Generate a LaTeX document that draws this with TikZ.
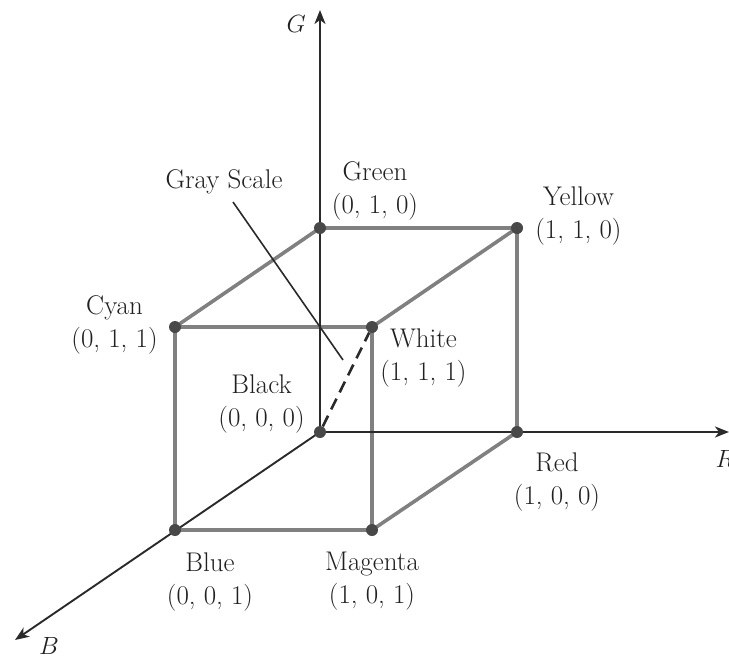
\documentclass[tikz,border=0pt]{standalone}
\usepackage{xcolor}
\usepackage{tikz}
\usetikzlibrary{arrows.meta,positioning,backgrounds}
\definecolor{EdgeGray}{HTML}{808080}
\definecolor{AxisDark}{HTML}{2A2A2A}
\definecolor{DotDark}{HTML}{484848}
\definecolor{TextDark}{HTML}{202020}
\tikzset{
  % Corner dot
  VX/.style={circle,fill=DotDark,inner sep=0pt,minimum size=12pt},
  % Corner label (name + triple)
  LB/.style={align=center,inner sep=0pt,text=TextDark,
             font=\fontsize{27}{33}\selectfont},
  % Axis / single labels
  AXL/.style={inner sep=0pt,text=TextDark,font=\fontsize{27}{33}\selectfont},
  % Lines
  eg/.style={draw=EdgeGray,line width=3.6pt},
  ax/.style={draw=AxisDark,line width=1.9pt,-{Stealth[length=14pt,width=11pt,inset=4pt]}},
  ds/.style={draw=AxisDark,line width=2.6pt,dash pattern=on 12pt off 7pt},
  ld/.style={draw=AxisDark,line width=1.6pt}
}
\begin{document}
\begin{tikzpicture}[x=1pt,y=-1pt]
  \useasboundingbox (0,0) rectangle (729,659);

  % cube corners
  \node[VX] (blk) at (320,432) {};
  \node[VX] (grn) at (320,228) {};
  \node[VX] (yel) at (517,228) {};
  \node[VX] (red) at (517,432) {};
  \node[VX] (cyn) at (175,327) {};
  \node[VX] (wht) at (372,327) {};
  \node[VX] (blu) at (175,530) {};
  \node[VX] (mag) at (372,530) {};

  % axis ends
  \coordinate (gtip) at (320,10);
  \coordinate (rtip) at (729,432);
  \coordinate (btip) at (15,640);
  \coordinate (gsa)  at (233,202);
  \coordinate (gsb)  at (343,360);

  % labels
  \node[LB,above=1pt of grn,xshift=55pt]   (grnL) {Green\\(0, 1, 0)};
  \node[LB,right=12pt of yel,yshift=12pt]  (yelL) {Yellow\\(1, 1, 0)};
  \node[LB,left=11pt of cyn,yshift=2pt]    (cynL) {Cyan\\(0, 1, 1)};
  \node[LB,right=2pt of wht,yshift=-31pt]  (whtL) {White\\(1, 1, 1)};
  \node[LB,left=9pt of blk,yshift=28pt]    (blkL) {Black\\(0, 0, 0)};
  \node[LB,below=14pt of red,xshift=40pt]  (redL) {Red\\(1, 0, 0)};
  \node[LB,below=16pt of blu,xshift=35pt]  (bluL) {Blue\\(0, 0, 1)};
  \node[LB,below=16pt of mag]              (magL) {Magenta\\(1, 0, 1)};
  \node[AXL] (gsL) at (224,182) {Gray Scale};

  \node[AXL,left=14pt of gtip,yshift=-14pt] (gL) {$G$};
  \node[AXL,below=18pt of rtip,xshift=-4pt] (rL) {$R$};
  \node[AXL,right=24pt of btip,yshift=-6pt] (bL) {$B$};

  \begin{scope}[on background layer]
    \draw[eg] (cyn.center) -- (grn.center) -- (yel.center) -- (wht.center)
              -- (cyn.center) -- (blu.center) -- (mag.center) -- (wht.center);
    \draw[eg] (yel.center) -- (red.center) -- (mag.center);
    \draw[ax] (blk.center) -- (gtip);
    \draw[ax] (blk.center) -- (rtip);
    \draw[ax] (blk.center) -- (btip);
    \draw[ds] (blk) -- (wht);
    \draw[ld] (gsa) -- (gsb);
  \end{scope}
\end{tikzpicture}
\end{document}
